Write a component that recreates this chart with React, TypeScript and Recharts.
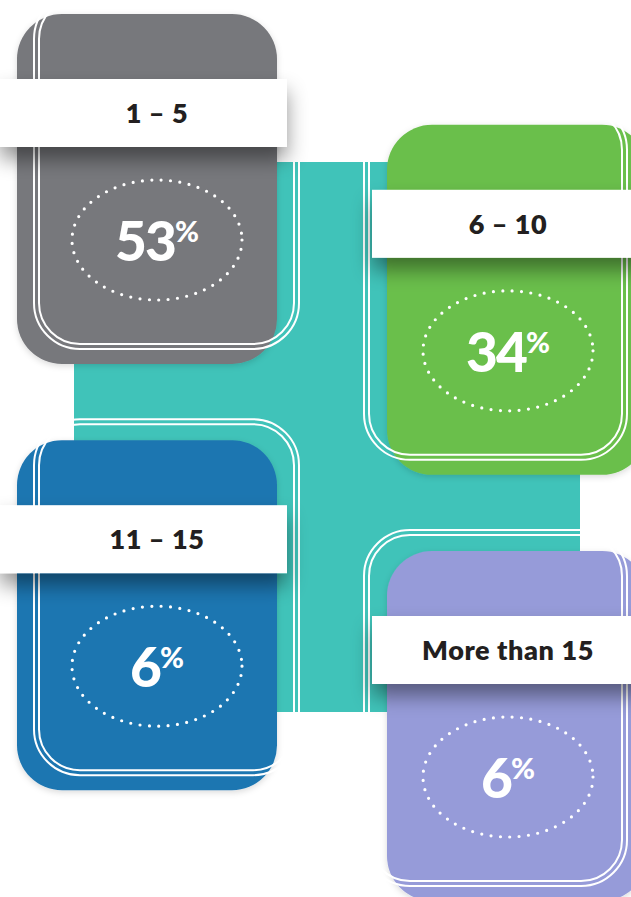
import { ScatterChart, Scatter, XAxis, YAxis } from 'recharts';

// respondents grouped by count, share in percent
const categories = ['1 – 5', '6 – 10', '11 – 15', 'More than 15'];
const shares = [53, 34, 6, 6];
const colors = ['#77787c', '#6abf4b', '#1f76b1', '#969bd9'];

// cards are staggered: right column sits a bit lower than the left one
const ROW_STAGGER = 0.26;

const data = categories.map((label, i) => ({
  label,
  value: shares[i],
  color: colors[i],
  col: i % 2,
  row: Math.floor(i / 2) + (i % 2) * ROW_STAGGER,
  idx: i,
}));

const FONT = 'Lato, "Open Sans", sans-serif';

function Card(props: any) {
  const { cx, cy, payload } = props;
  const right = payload.col === 1;
  const id = `c${payload.idx}`;

  const cardX = right ? cx - 121 : cx - 140;
  const cardTop = cy - 226;
  const oX = right ? cx - 145 : cx - 124;
  const oW = right ? 265 : 267;
  const oTop = cy - 248;
  const oH = cy + 110 - oTop;
  const bandX = right ? cx - 136 : cx - 157;
  const bandW = right ? 300 : 287;
  const bandTop = cy - 161;

  return (
    <g>
      <defs>
        <filter id={`${id}-band`} x="-20%" y="-50%" width="140%" height="250%">
          <feDropShadow dx="0" dy="12" stdDeviation="10" floodColor="#000" floodOpacity="0.42" />
        </filter>
        <filter id={`${id}-card`} x="-10%" y="-10%" width="120%" height="120%">
          <feDropShadow dx="0" dy="2" stdDeviation="3" floodColor="#000" floodOpacity="0.15" />
        </filter>
      </defs>
      <rect x={cardX} y={cardTop} width={260} height={350} rx={45} fill={payload.color} filter={`url(#${id}-card)`} />
      <rect x={oX + 1} y={oTop + 1} width={oW - 2} height={oH - 2} rx={46} fill="none" stroke="#fff" strokeWidth={2} />
      <rect x={oX + 6} y={oTop + 6} width={oW - 12} height={oH - 12} rx={41} fill="none" stroke="#fff" strokeWidth={2} />
      <rect x={bandX} y={bandTop} width={bandW} height={68} fill="#fff" filter={`url(#${id}-band)`} />
      <text x={cx} y={bandTop + 44} textAnchor="middle" fill="#231f20" fontFamily={FONT} fontWeight={800}
        fontSize={27} letterSpacing={0.6}>
        {payload.label}
      </text>
      <ellipse cx={cx} cy={cy} rx={85} ry={60} fill="none" stroke="#fff" strokeWidth={3.2}
        strokeDasharray="0 9.4" strokeLinecap="round" />
      <text x={cx} y={cy + 21} textAnchor="middle" fill="#fff" fontFamily={FONT} fontWeight={900}>
        <tspan fontSize={55} letterSpacing={-2}>{payload.value}</tspan>
        <tspan fontSize={29} dy={-19}>%</tspan>
      </text>
    </g>
  );
}

export default function App() {
  return (
    <div style={{ position: 'absolute', left: 0, top: 0, width: 631, height: 897, background: '#fff', overflow: 'hidden' }}>
      <div style={{ position: 'absolute', left: 74, top: 162, width: 506, height: 550, background: '#40c3b9' }} />
      <div style={{ position: 'absolute', left: 0, top: 0 }}>
        <ScatterChart width={631} height={897} margin={{ top: 240, right: 123, bottom: 120, left: 157 }}>
          <XAxis type="number" dataKey="col" domain={[0, 1]} hide />
          <YAxis type="number" dataKey="row" domain={[0, 1 + ROW_STAGGER]} reversed hide />
          <Scatter data={data} shape={<Card />} isAnimationActive={false} />
        </ScatterChart>
      </div>
    </div>
  );
}
